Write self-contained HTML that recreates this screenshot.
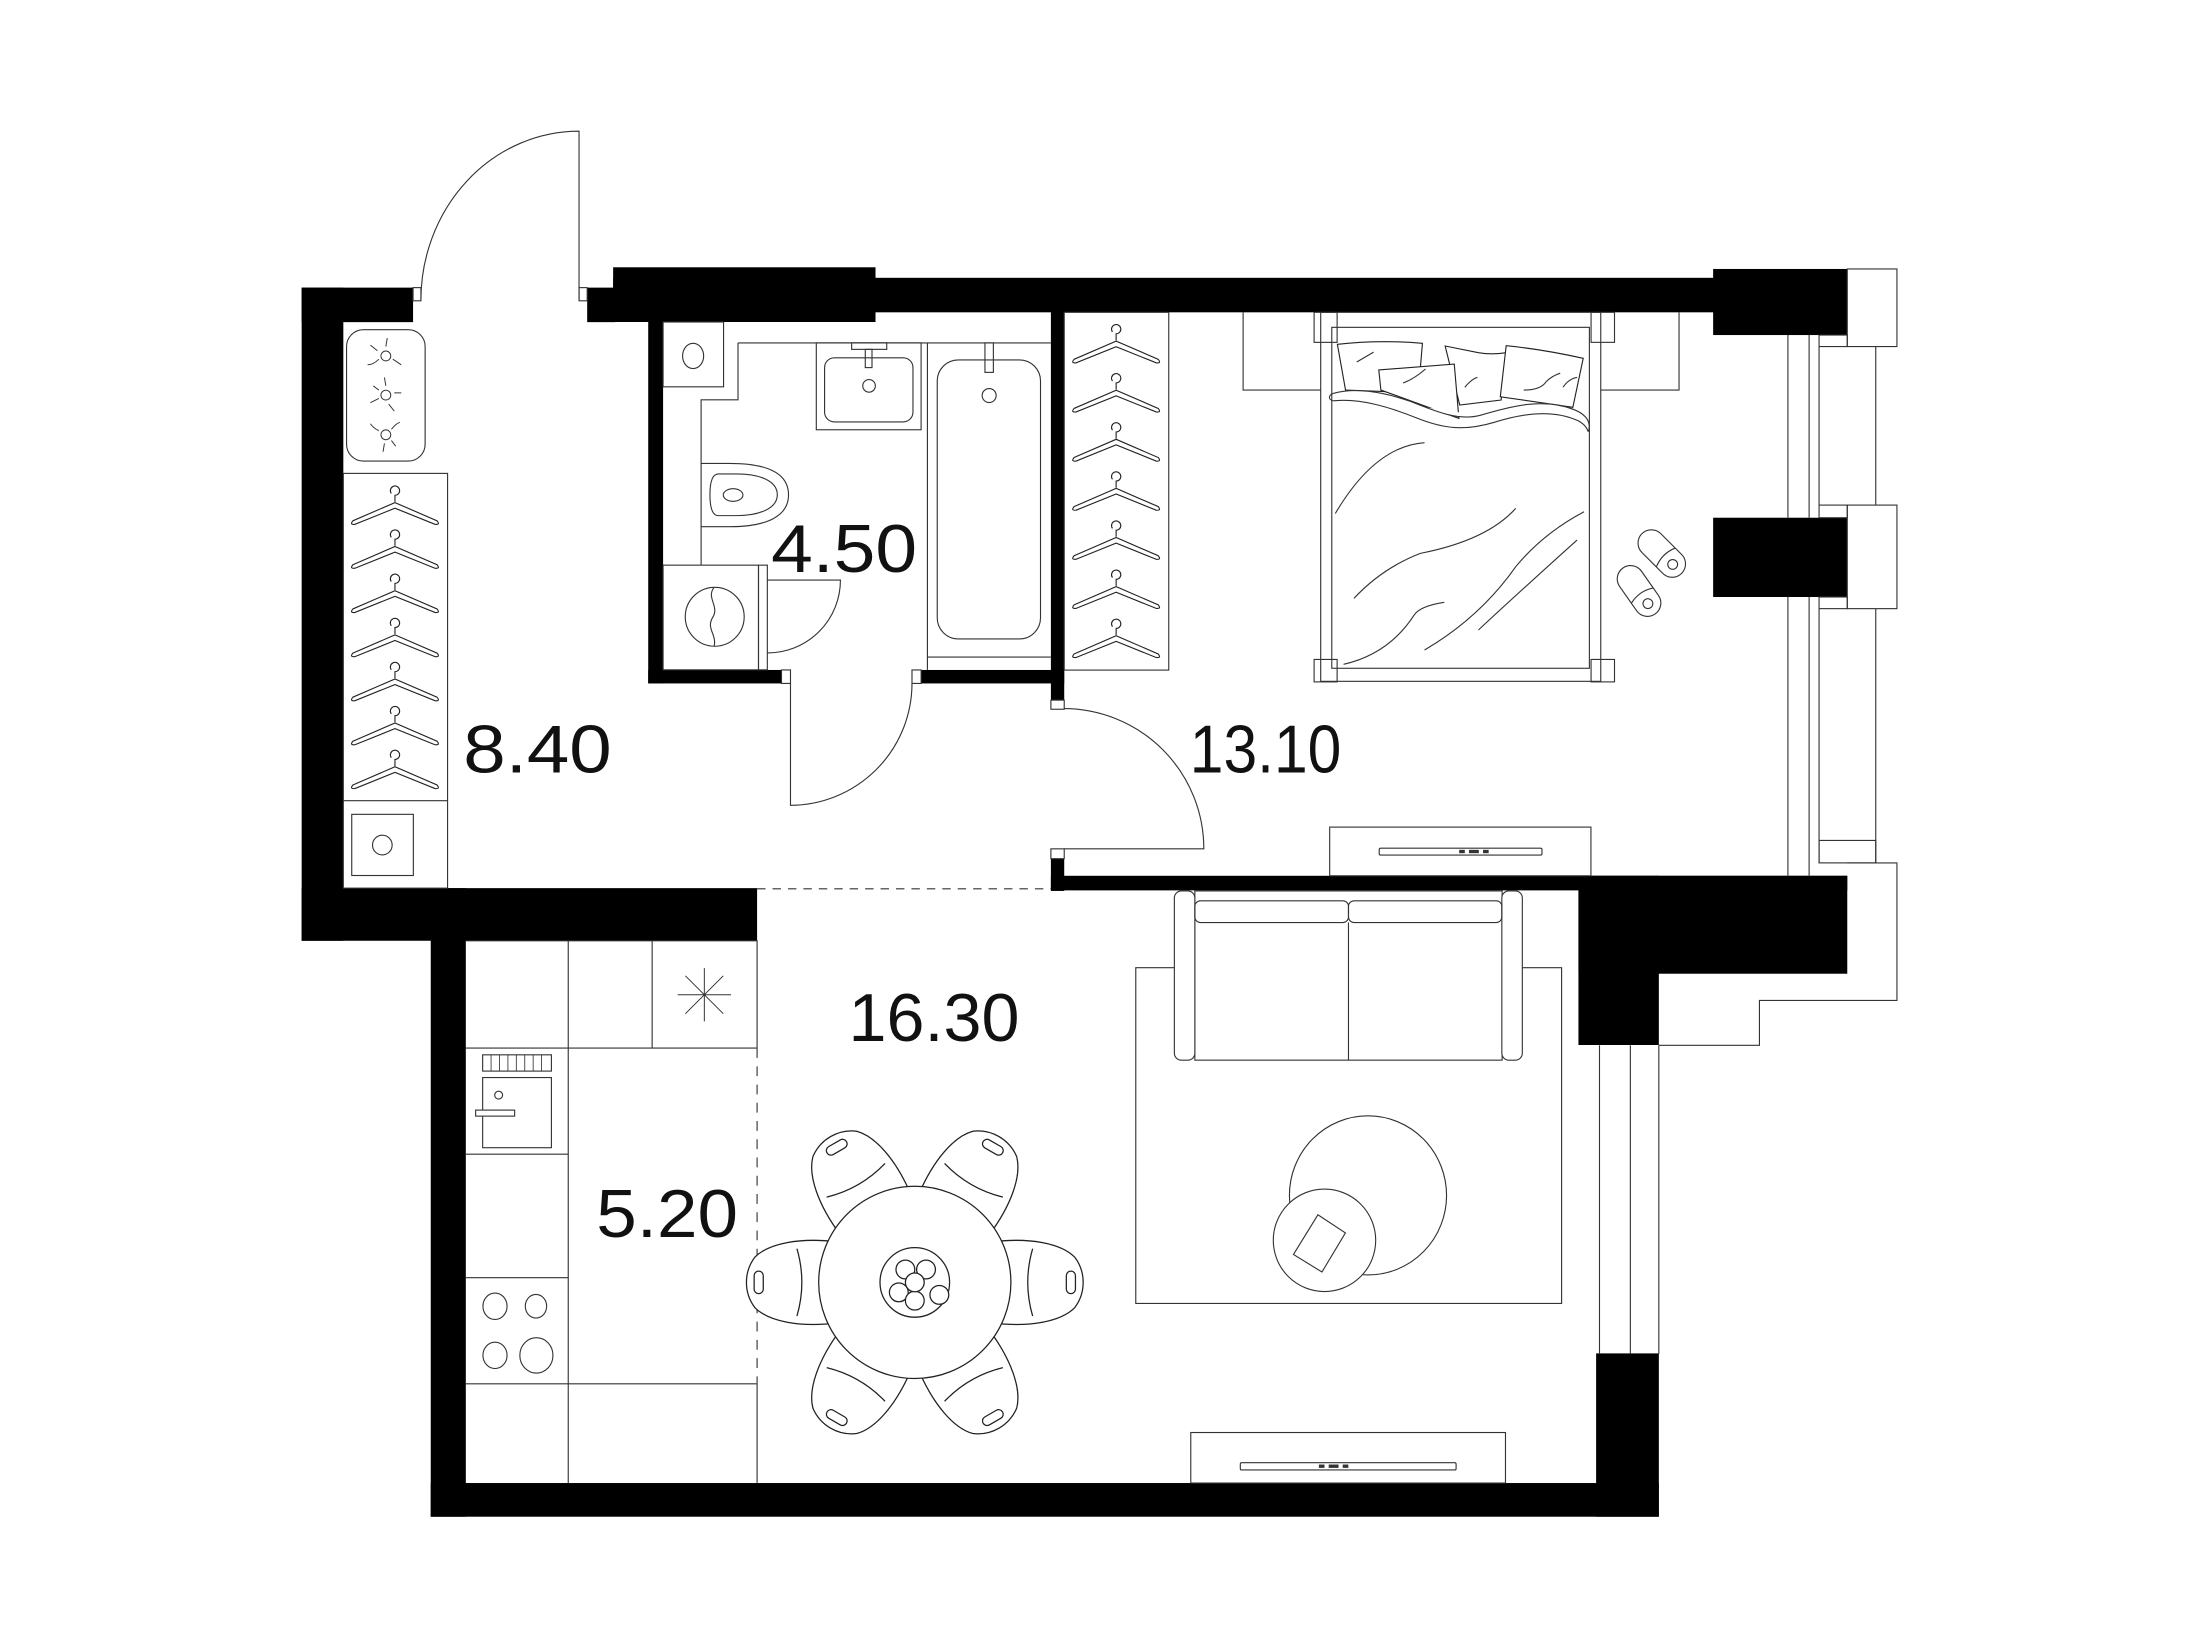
<!DOCTYPE html>
<html><head><meta charset="utf-8"><style>
html,body{margin:0;padding:0;background:#fff;}
svg{display:block;}
text{font-family:"Liberation Sans",sans-serif;fill:#111;}
</style></head><body>
<svg width="2200" height="1650" viewBox="0 0 1568 1176" xmlns="http://www.w3.org/2000/svg">
<defs>
<g id="hanger" fill="none" stroke="#222" stroke-width="0.8">
<path d="M-2.6,6 A3.3,3.3 0 1 1 0,7.3 L0,12"/>
<path d="M-30,25.5 L0,12.5 L30,25.5 Q32.5,28.5 28.5,28 L0,16.5 L-28.5,28 Q-32.5,28.5 -30,25.5 Z"/>
</g>
<g id="chair" stroke="#222" stroke-width="0.9" fill="#fff">
<path d="M56,-29 C82,-32 104,-28 114,-18 Q120,-10 120,0 Q120,10 114,18 C104,28 82,32 56,29 Z"/>
<path d="M84,-24 Q77,0 84,24" fill="none"/>
<rect x="108" y="-8" width="6.5" height="16" rx="3.2"/>
</g>
</defs>

<!-- ============ WALLS ============ -->
<g fill="#000">
<rect x="215" y="205" width="79.4" height="24.6"/>
<rect x="215" y="205" width="29.7" height="465.5"/>
<rect x="215" y="633" width="324.6" height="37.5"/>
<rect x="307" y="633" width="25" height="448"/>
<rect x="307" y="1057" width="875.3" height="24"/>
<rect x="1137.6" y="964.6" width="44.7" height="116.4"/>
<rect x="418.5" y="205" width="20" height="24.6"/>
<rect x="437" y="190.5" width="187" height="39"/>
<rect x="437" y="198" width="785" height="24.6"/>
<rect x="1221" y="191.7" width="95.6" height="47.1"/>
<rect x="1221" y="369" width="95.6" height="56.5"/>
<rect x="462" y="222" width="10.6" height="265"/>
<rect x="462" y="477.5" width="95" height="9.6"/>
<rect x="656.5" y="477.5" width="102" height="9.6"/>
<rect x="749" y="222" width="9.5" height="277"/>
<rect x="749" y="612" width="9.5" height="23"/>
<rect x="749" y="624.2" width="567.6" height="10.4"/>
<rect x="1125" y="624.2" width="191.6" height="69.8"/>
<rect x="1125" y="624.2" width="57.3" height="120.6"/>
</g>

<g fill="none" stroke="#333" stroke-width="0.8">
<rect x="294.4" y="205" width="5.6" height="9.4"/>
<rect x="412.7" y="205" width="5.8" height="9.4"/>
<rect x="557" y="477.5" width="6.4" height="9.6"/>
<rect x="650" y="477.5" width="6.5" height="9.6"/>
<rect x="749" y="499" width="9.5" height="6.5"/>
<rect x="749" y="605" width="9.5" height="7"/>
<path d="M412.7,214 L412.7,93.5 A112.7,120.5 0 0 0 300,214"/>
<path d="M563.4,487 L563.4,574 A87,87 0 0 0 650,487"/>
<path d="M758.5,505 A100,100 0 0 1 858,605 L758.5,605"/>
<path d="M539.6,633.5 L749,633.5" stroke-dasharray="6,5"/>
<path d="M539.6,747 L539.6,986" stroke-dasharray="7,6"/>

<path d="M1274.3,238.8 V369 M1274.3,425.5 V624.2 M1289.4,238.8 V369 M1289.4,425.5 V624.2 M1296.5,247 V360 M1296.5,433.8 V615 M1336.9,247 V360 M1336.9,433.8 V615"/>
<rect x="1316.6" y="191.7" width="35.4" height="55.3"/>
<rect x="1296.5" y="238.8" width="20.1" height="8.2"/>
<rect x="1316.6" y="360" width="35.4" height="73.8"/>
<rect x="1296.5" y="360" width="20.1" height="9"/>
<rect x="1296.5" y="425.5" width="20.1" height="8.3"/>
<rect x="1296.5" y="599" width="40.4" height="16"/>
<path d="M1316.6,615 H1352 V713 H1254 V745 H1182.3"/>
<path d="M1140,745 V965 M1162,745 V965 M1182.3,745 V965"/>

<rect x="247" y="235" width="56" height="93.6" rx="12"/>
<g stroke-width="0.7">
<circle cx="275" cy="253.7" r="3.5"/>
<path d="M275,247 l1,-6 M280,256 l6,4 M270,256 q-4,4 -8,4 M269,250 l-5,-4"/>
<circle cx="275" cy="281.6" r="3.5"/>
<path d="M275,275 l-1,-6 M281,280 l5,0 M270,284 l-6,3 M270,278 l-4,-3 M277,288 l4,5"/>
<circle cx="275" cy="309.9" r="3.5"/>
<path d="M279,306 q3,-4 6,-5 M270,307 q-4,-2 -6,-5 M274,316 l-1,6 M279,314 l3,4"/>
</g>
<rect x="244.7" y="337.4" width="74.3" height="295.6"/>
<line x1="244.7" y1="570.7" x2="319" y2="570.7"/>
<rect x="250.7" y="580.4" width="43.9" height="43.6"/>
<circle cx="272.5" cy="602.3" r="7"/>
</g>
<use href="#hanger" x="281.5" y="345.7"/>
<use href="#hanger" x="281.5" y="377"/>
<use href="#hanger" x="281.5" y="408.5"/>
<use href="#hanger" x="281.5" y="440"/>
<use href="#hanger" x="281.5" y="471.4"/>
<use href="#hanger" x="281.5" y="502.8"/>
<use href="#hanger" x="281.5" y="534"/>

<g fill="none" stroke="#333" stroke-width="0.8">
<rect x="472.6" y="229.5" width="43.1" height="46.2"/>
<ellipse cx="494" cy="253.7" rx="7.5" ry="9"/>
<path d="M526,244.4 H749 M526,244.4 V285 H499.7 V402.8"/>
<rect x="581.8" y="244.4" width="74.7" height="61.9"/>
<rect x="587.7" y="255" width="63" height="45.7" rx="7"/>
<rect x="607" y="244.4" width="25" height="4.6"/>
<rect x="616.7" y="249" width="4.8" height="13"/>
<circle cx="619.4" cy="275" r="4.5"/>
<path d="M661,244.4 V477.4 M661,468.3 H749"/>
<rect x="668" y="256.5" width="73.6" height="198.9" rx="15"/>
<rect x="702" y="244.4" width="6" height="21"/>
<circle cx="705" cy="281.9" r="5"/>
<path d="M499.7,330.3 H520 C548,330.3 562,338 562,352.8 C562,367 548,375.4 520,375.4 H499.7"/>
<path d="M512,337.8 H525 C542,337.8 554,343 554,352.6 C554,362 542,367.5 525,367.5 H512 C507,367.5 506,360 506,352.6 C506,345 507,337.8 512,337.8 Z"/>
<ellipse cx="522.5" cy="352.8" rx="7" ry="4.5"/>
<rect x="472.6" y="402.8" width="68" height="74.6"/>
<rect x="540.6" y="402.8" width="6.3" height="74.6"/>
<circle cx="509.4" cy="439.6" r="21"/>
<path d="M509,418.6 C503,426 513,432 508,440 C503,448 511,452 509,460.6"/>
<path d="M546.9,413.4 H599 A52,52 0 0 1 546.9,465.4"/>
</g>

<g fill="none" stroke="#333" stroke-width="0.8">
<rect x="758.5" y="222.6" width="74.5" height="255"/>
<path d="M886,222.6 V278 H941.3 M1140.9,278 H1196.7 V222.6"/>
<rect x="941.3" y="222.6" width="199.6" height="263"/>
<rect x="949.2" y="233.3" width="183.6" height="243"/>
<rect x="936.6" y="222.6" width="16.4" height="21.4"/>
<rect x="1134" y="222.6" width="16.7" height="21.4"/>
<rect x="936.6" y="470" width="16.4" height="16"/>
<rect x="1134" y="470" width="16.7" height="16"/>
<g stroke="#222" fill="#fff">
<path d="M953.2,245.4 Q983,242 1013.8,244.7 L1012.3,262.6 L1010,280 L959,278 Z"/>
<path d="M1030,246.6 L1053.7,251.4 Q1063,253 1073.5,251.4 L1069.9,285.1 L1040.4,288.7 Z"/>
<path d="M982.7,263.7 L1036.5,259.5 L1039.8,298.2 L984.2,278 Z"/>
<path d="M1073.5,246.4 Q1100,249 1128.4,255.4 L1121,290.3 L1069.3,282.8 Z"/>
</g>
<path d="M950.2,280.4 C965,276 985,279 1005,286 C1025,294 1040,300 1055,296 C1075,290 1100,283 1122,292 C1132,296 1134,302 1132,307.7" fill="#fff"/>
<path d="M950.2,280.4 C946,282 947,286 951.7,285.6 C970,284 990,290 1010,298 C1030,306 1045,307 1065,301 C1090,293 1110,293 1125,300 C1130,303 1131,305 1132,307.7" fill="none"/>
<path d="M967,258 l12,-7 M1000,273 q8,-3 16,-10 M1044,276 q5,-6 9,-7 M1086,278 q12,0 16,-6 q4,-4 10,-6 M1114,276 q4,-6 10,-7"/>
<path d="M1015.3,315.5 Q980,318 951.7,366"/>
<path d="M1080.3,362.3 Q1060,385 1012.3,394.4 Q985,405 965,426.5"/>
<path d="M1129,364.7 Q1100,380 1080.3,403.9 Q1055,440 1015.3,463.3"/>
<path d="M1124,384.9 Q1085,420 1053.7,449"/>
<path d="M1029.4,429.3 Q1012,432 1007.9,438.4 Q990,466 957.6,473.5"/>
<g transform="translate(1184.4,394.5) rotate(-45)"><rect x="-9.5" y="-20" width="19" height="40" rx="9.5"/><path d="M-9.5,4 Q0,0 9.5,4"/><circle cx="0" cy="11" r="3.5"/></g>
<g transform="translate(1168.2,421.2) rotate(-35)"><rect x="-9.5" y="-20" width="19" height="40" rx="9.5"/><path d="M-9.5,4 Q0,0 9.5,4"/><circle cx="0" cy="11" r="3.5"/></g>
<rect x="947.7" y="589.5" width="186.2" height="34.7"/>
<rect x="983" y="604.5" width="116" height="4.9" rx="1"/>
</g>
<g fill="#333">
<rect x="1040" y="605.7" width="4" height="2.4"/><rect x="1047" y="605.7" width="7" height="2.4"/><rect x="1057" y="605.7" width="4" height="2.4"/>
</g>
<use href="#hanger" x="795.5" y="230.6"/>
<use href="#hanger" x="795.5" y="265.6"/>
<use href="#hanger" x="795.5" y="300.6"/>
<use href="#hanger" x="795.5" y="335.6"/>
<use href="#hanger" x="795.5" y="370.6"/>
<use href="#hanger" x="795.5" y="405.6"/>
<use href="#hanger" x="795.5" y="440.6"/>

<g fill="none" stroke="#333" stroke-width="0.8">
<rect x="809.5" y="689.7" width="303.5" height="239.3"/>
<rect x="851.6" y="635" width="219" height="120.6" fill="#fff"/>
<rect x="837" y="635" width="14.6" height="120.6" rx="5" fill="#fff"/>
<rect x="1070.4" y="635" width="14.6" height="120.6" rx="5" fill="#fff"/>
<rect x="851.6" y="642" width="109.5" height="15.5" rx="4"/>
<rect x="961.1" y="642" width="109.3" height="15.5" rx="4"/>
<line x1="961.1" y1="657.5" x2="961.1" y2="755.6"/>
<ellipse cx="975" cy="852" rx="56" ry="56.7" fill="#fff"/>
<circle cx="944" cy="884" r="36.5" fill="#fff"/>
<path d="M939.3,865.8 L958.9,878.7 L942.2,906.6 L921.9,894.1 Z"/>
<rect x="848.7" y="1021" width="224.3" height="36"/>
<rect x="884" y="1042.5" width="153.8" height="5.2" rx="1"/>
</g>
<g fill="#333">
<rect x="940" y="1043.8" width="4" height="2.4"/><rect x="947" y="1043.8" width="7" height="2.4"/><rect x="957" y="1043.8" width="4" height="2.4"/>
</g>

<g transform="translate(652,914)">
<use href="#chair" transform="rotate(0)"/>
<use href="#chair" transform="rotate(60)"/>
<use href="#chair" transform="rotate(120)"/>
<use href="#chair" transform="rotate(180)"/>
<use href="#chair" transform="rotate(240)"/>
<use href="#chair" transform="rotate(300)"/>
<g fill="#fff" stroke="#222" stroke-width="0.9">
<circle r="68.5"/>
<circle r="24.8"/>
<circle cx="-6.7" cy="-9.2" r="6.7"/><circle cx="8" cy="-9.2" r="6.7"/>
<circle cx="-11.4" cy="7.1" r="6.7"/><circle cx="0" cy="13" r="6.7"/>
<circle cx="17.5" cy="8.9" r="6.7"/><circle cx="0" cy="0" r="6.7"/>
</g>
</g>

<g fill="none" stroke="#333" stroke-width="0.8">
<path d="M332,670.5 H539.6 V747 M332,747 H539.6 M405,670.5 V1057 M464.8,670.5 V747 M332,822.6 H405 M332,910.6 H405 M332,986.3 H539.6 V1057"/>
<path d="M502,690 V728 M483,709 H521 M488.5,695.5 L515.5,722.5 M515.5,695.5 L488.5,722.5" stroke-width="0.7"/>
<rect x="344" y="751.8" width="49" height="11.6"/>
<path d="M350,751.8 V763.4 M356,751.8 V763.4 M362,751.8 V763.4 M368,751.8 V763.4 M374,751.8 V763.4 M380,751.8 V763.4 M386,751.8 V763.4" stroke-width="0.6"/>
<rect x="344" y="768" width="49" height="50"/>
<circle cx="355.4" cy="780.5" r="2.8"/>
<rect x="339" y="791.2" width="27.8" height="4.3" fill="#fff"/>
<ellipse cx="352.8" cy="931" rx="8.6" ry="9.4"/>
<ellipse cx="382" cy="931" rx="7.6" ry="8.4"/>
<ellipse cx="352.8" cy="966" rx="8.6" ry="9.4"/>
<ellipse cx="382.3" cy="966" rx="11.8" ry="12.6"/>
</g>

<text x="330.2" y="550.7" font-size="48" textLength="105.8" lengthAdjust="spacingAndGlyphs">8.40</text>
<text x="549.6" y="407.7" font-size="48" textLength="104" lengthAdjust="spacingAndGlyphs">4.50</text>
<text x="848" y="550.7" font-size="48" textLength="108" lengthAdjust="spacingAndGlyphs">13.10</text>
<text x="604.8" y="741.8" font-size="48" textLength="121.8" lengthAdjust="spacingAndGlyphs">16.30</text>
<text x="425" y="881.5" font-size="48" textLength="101" lengthAdjust="spacingAndGlyphs">5.20</text>
</svg>
</body></html>
